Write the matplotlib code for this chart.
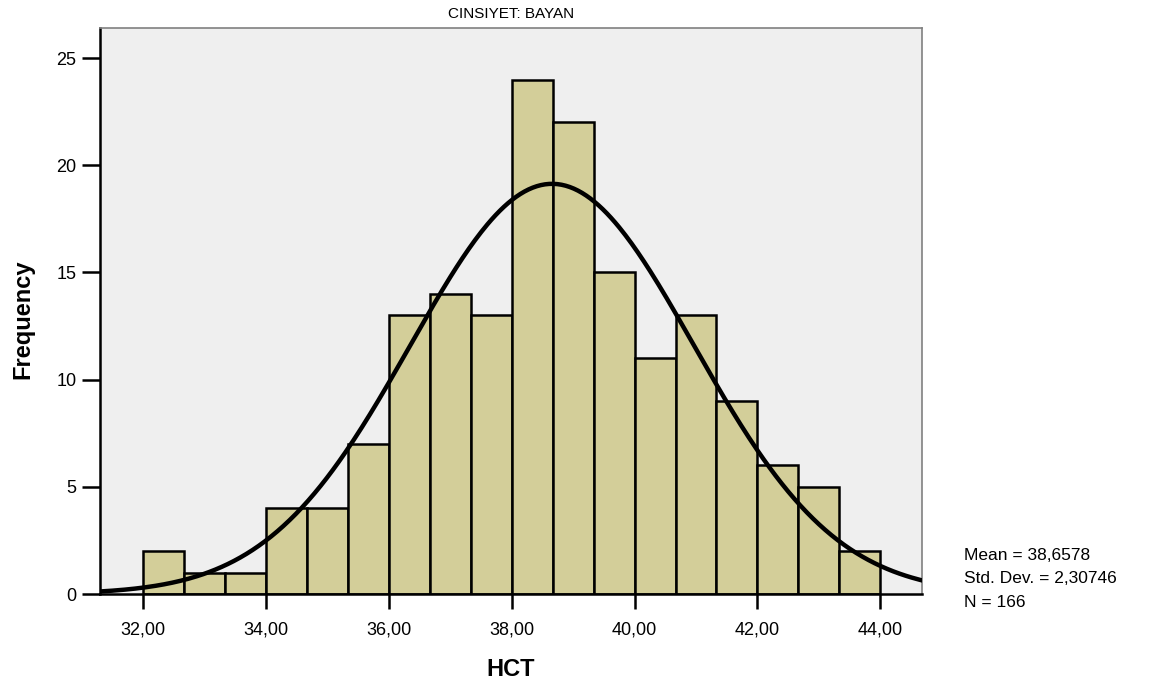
import numpy as np
import matplotlib
matplotlib.use("Agg")
import matplotlib.pyplot as plt

plt.rcParams['font.family'] = ['Liberation Sans', 'DejaVu Sans']

# histogram data (bin width 2/3, from 32 to 44)
bin_edges = np.linspace(32, 44, 19)
counts = [2, 1, 1, 4, 4, 7, 13, 14, 13, 24, 22, 15, 11, 13, 9, 6, 5, 2]
mean = 38.6578
std = 2.30746
n = 166
x_ticks = [32, 34, 36, 38, 40, 42, 44]
x_labels = ["32,00", "34,00", "36,00", "38,00", "40,00", "42,00", "44,00"]
y_ticks = [0, 5, 10, 15, 20, 25]

fig = plt.figure(figsize=(11.66, 6.86), dpi=100)
ax = fig.add_axes([0.0858, 0.1341, 0.7050, 0.8250])
ax.set_facecolor("#efefef")

widths = np.diff(bin_edges)
ax.bar(bin_edges[:-1], counts, width=widths, align="edge",
       color="#d3ce99", edgecolor="black", linewidth=1.8, zorder=2)

# fitted normal curve
xs = np.linspace(31.3, 44.68, 400)
bw = widths[0]
ys = n * bw / (std * np.sqrt(2 * np.pi)) * np.exp(-0.5 * ((xs - mean) / std) ** 2)
ax.plot(xs, ys, color="black", linewidth=3.2, zorder=3)

ax.set_xlim(31.3, 44.68)
ax.set_ylim(0, 26.4)
ax.set_xticks(x_ticks)
ax.set_xticklabels(x_labels, fontsize=13)
ax.set_yticks(y_ticks)
ax.set_yticklabels([str(v) for v in y_ticks], fontsize=13)
ax.tick_params(axis="x", direction="out", length=11, width=1.8, pad=9)
ax.tick_params(axis="y", direction="out", length=13, width=1.8, pad=4)

for side in ["left", "bottom"]:
    ax.spines[side].set_color("black")
    ax.spines[side].set_linewidth(1.8)
for side in ["top", "right"]:
    ax.spines[side].set_color("#808080")
    ax.spines[side].set_linewidth(1.2)

ax.set_xlabel("HCT", fontsize=17, fontweight="bold")
ax.xaxis.set_label_coords(0.5, -0.113)
ax.set_ylabel("Frequency", fontsize=17, fontweight="bold")
ax.yaxis.set_label_coords(-0.080, 0.486)
ax.set_title("CINSIYET: BAYAN", fontsize=11, pad=7)

fig.text(0.827, 0.156, "Mean = 38,6578\nStd. Dev. = 2,30746\nN = 166",
         fontsize=12.5, va="center", ha="left", linespacing=1.7)

fig.savefig("out.png", dpi=100)
